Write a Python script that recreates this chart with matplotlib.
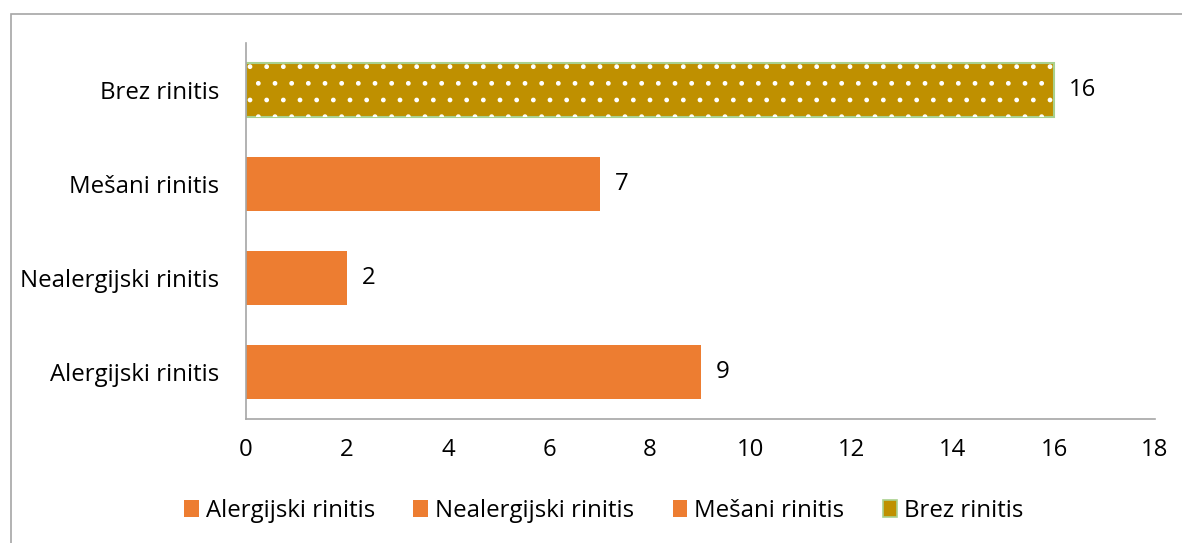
import matplotlib.pyplot as plt
from matplotlib.patches import Rectangle, Patch

categories = ["Alergijski rinitis", "Nealergijski rinitis", "Mešani rinitis", "Brez rinitis"]
values = [9, 2, 7, 16]
xticks = [0, 2, 4, 6, 8, 10, 12, 14, 16, 18]

orange = "#ED7D31"
gold = "#BF9000"
green = "#A9D18E"
grey = "#A6A6A6"

plt.rcParams["font.family"] = ["Open Sans", "DejaVu Sans"]
plt.rcParams["hatch.linewidth"] = 1.0
plt.rcParams["hatch.color"] = "white"
fs = 17.3

fig = plt.figure(figsize=(11.82, 5.43), dpi=100)
ax = fig.add_axes([0.2081, 0.2284, 0.7691, 0.6924])

ypos = list(range(len(categories)))
h = 0.575
for i, (c, v) in enumerate(zip(categories, values)):
    if c == "Brez rinitis":
        ax.barh(i, v, height=h, color=gold, edgecolor=green, linewidth=1.5)
        ax.barh(i, v, height=h, fill=False, hatch=".", edgecolor="white", linewidth=0)
    else:
        ax.barh(i, v, height=h, color=orange, linewidth=0)
    ax.text(v + 0.3, i, str(v), va="center", ha="left", fontsize=fs, color="black")

ax.set_xlim(0, 18)
ax.set_ylim(-0.5, 3.5)
ax.set_xticks(xticks)
ax.set_yticks(ypos)
ax.set_yticklabels(categories)
ax.tick_params(length=0, labelsize=fs, colors="black")
ax.tick_params(axis="x", pad=14)
ax.tick_params(axis="y", pad=19)
for s in ["top", "right"]:
    ax.spines[s].set_visible(False)
for s in ["left", "bottom"]:
    ax.spines[s].set_color(grey)
    ax.spines[s].set_linewidth(1.2)

handles = [Patch(facecolor=orange), Patch(facecolor=orange), Patch(facecolor=orange),
           Patch(facecolor=gold, edgecolor=green, linewidth=1.2)]
fig.legend(handles, categories, loc="center", bbox_to_anchor=(0.511, 0.059), ncol=4,
           frameon=False, fontsize=fs, handlelength=0.6, handleheight=0.7,
           handletextpad=0.3, columnspacing=1.6)

fig.patches.append(Rectangle((11 / 1182, -0.1), 1.2, 1 - 14 / 543 + 0.1,
                             transform=fig.transFigure, fill=False,
                             edgecolor=grey, linewidth=1.2))

fig.savefig("out.png", dpi=100)
